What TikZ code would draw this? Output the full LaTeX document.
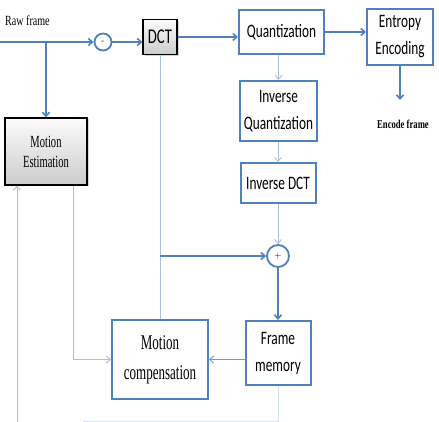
\documentclass[tikz,border=0pt]{standalone}
\usepackage{fontspec}
\usepackage{xcolor}
\usepackage{tikz}
\usetikzlibrary{arrows.meta}
\usetikzlibrary{shadows}
\newfontfamily\blocofont[FakeStretch=0.7]{Carlito}
\newfontfamily\serifbloco[FakeStretch=0.62]{Liberation Serif}
\newfontfamily\serifrotulo[FakeStretch=0.72]{Liberation Serif}
\definecolor{azul}{HTML}{4F81BD}
\definecolor{azulclaro}{HTML}{A9C1E0}
\tikzset{
  bloco/.style={draw=azul, line width=2pt, fill=white, align=center, inner sep=0pt, font=\blocofont\fontsize{19}{27}\selectfont},
  cinza/.style={draw=black, line width=1.2pt, top color=gray!3, bottom color=gray!40, align=center, inner sep=0pt,
    drop shadow={shadow xshift=1.5pt, shadow yshift=-1.5pt, opacity=0.35}},
  linha/.style={draw=azul, line width=1.6pt, -{Straight Barb[length=4pt,width=7pt]}},
  linhafina/.style={draw=azulclaro, line width=0.9pt, -{Straight Barb[length=4pt,width=7pt]}},
  circulo/.style={circle, draw=azul, line width=1.8pt, fill=white, inner sep=0pt, minimum size=#1},
}

\begin{document}
\begin{tikzpicture}[x=1pt, y=-1pt]
  \useasboundingbox (0,0) rectangle (439,422);
  % blocos
  \node[cinza, minimum width=34pt, minimum height=35pt, font=\blocofont\fontsize{21}{24}\selectfont] (dct) at (160,37) {DCT};
  \node[bloco, minimum width=85pt, minimum height=44pt] (quant) at (281.5,32) {Quantization};
  \node[bloco, minimum width=66pt, minimum height=56pt] (entropia) at (400,37) {Entropy\\Encoding};
  \node[bloco, minimum width=77pt, minimum height=60pt] (iquant) at (278.5,111) {Inverse\\Quantization};
  \node[bloco, minimum width=75pt, minimum height=40pt] (idct) at (278,183) {Inverse DCT};
  \node[cinza, minimum width=82pt, minimum height=67pt, font=\serifbloco\fontsize{17}{20}\selectfont] (estimacao) at (46,151.5) {Motion\\Estimation};
  \node[bloco, minimum width=96pt, minimum height=79pt, font=\serifbloco\fontsize{21}{30}\selectfont] (compensacao) at (160,359.5) {Motion\\compensation};
  \node[bloco, minimum width=65pt, minimum height=64pt] (memoria) at (278,353) {Frame\\memory};
  \node[circulo=17pt, font=\fontsize{9}{9}\selectfont] (sub) at (103,42) {-};
  \node[circulo=22pt, font=\fontsize{9}{9}\selectfont] (soma) at (278,256) {+};
  % rotulos
  \node[font=\serifrotulo\fontsize{14}{14}\selectfont, anchor=west, inner sep=0pt] (raw) at (5,21) {Raw frame};
  \node[font=\serifrotulo\bfseries\fontsize{12}{12}\selectfont, inner sep=0pt] (saida) at (403,124) {Encode frame};
  % pontos livres
  \coordinate (entrada) at (0,42);
  \coordinate (ramo) at (46,42);
  \coordinate (enc) at (400,100);
  \coordinate (desvio) at (160,256);
  \coordinate (desce) at (73,0);
  \coordinate (fundo) at (278,421);
  \coordinate (fundoesq) at (83,421);
  \coordinate (base) at (17,422);
  % ligacoes
  \draw[linha] (entrada) -- (sub.west);
  \draw[linha] (ramo) -- (estimacao.north);
  \draw[linha] (sub.east) -- (sub.east -| dct.west);
  \draw[linha] (dct.east) -- (dct.east -| quant.west);
  \draw[linha] (quant.east) -- (quant.east -| entropia.west);
  \draw[linha] (entropia.south) -- (enc);
  \foreach \a/\b in {quant/iquant, iquant/idct, idct/soma}
    \draw[linhafina] (\b.north |- \a.south) -- (\b.north);
  \draw[linhafina, -] (dct.south) -- (compensacao.north);
  \draw[linha] (desvio) -- (soma.west);
  \draw[linha] (soma.south) -- (memoria.north);
  \draw[linhafina, draw=azul!80] (memoria.west |- compensacao.east) -- (compensacao.east);
  \draw[linhafina] (estimacao.south -| desce) |- (compensacao.west);
  \draw[linhafina, draw=azulclaro!50, -] (memoria.south) -- (fundo) -- (fundoesq);
  \draw[linhafina] (base) -- (base |- estimacao.south);
\end{tikzpicture}
\end{document}
